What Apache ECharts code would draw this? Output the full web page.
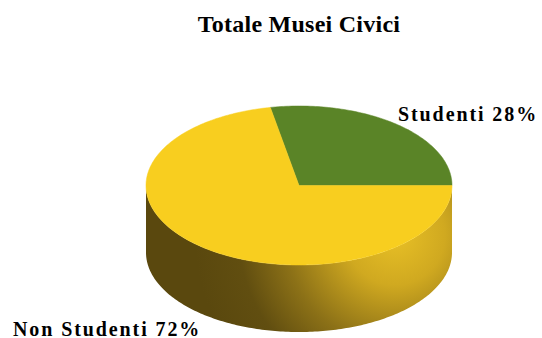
<!DOCTYPE html>
<html>
<head>
<meta charset="utf-8">
<script src="https://cdn.jsdelivr.net/npm/echarts@6/dist/echarts.min.js"></script>
<style>
  html, body { margin: 0; padding: 0; background: #ffffff; }
  #chart { width: 542px; height: 338px; }
  /* slice labels are drawn with wide tracking, the title with a little */
  #chart text[style*="20px"] { letter-spacing: 1.9px; }
  #chart text[style*="24px"] { letter-spacing: 0.25px; }
</style>
</head>
<body>
<div id="chart"></div>
<script>
// Visitor share for the civic museums
const categories = ['Studenti', 'Non Studenti'];
const values = [28, 72];
const titleText = 'Totale Musei Civici';

// Presentation
const sliceColors = ['#5a8427', '#f8ce1f'];
const pieLayout = { cx: 299, cy: 185.5, rx: 153, ry: 79.5, depth: 67 };
const labelPos = [
  { x: 398, y: 113.5 },
  { x: 13, y: 328.5 }
];

const total = values.reduce((a, b) => a + b, 0);
const starts = [];
values.reduce((acc, v, i) => { starts[i] = acc; return acc + v; }, 0);

function ellipsePoint(deg, dy) {
  const t = deg * Math.PI / 180;
  return [pieLayout.cx + pieLayout.rx * Math.cos(t),
          pieLayout.cy - pieLayout.ry * Math.sin(t) + (dy || 0)];
}

function arcPoints(a0, a1, dy) {
  const pts = [];
  const n = Math.max(2, Math.ceil(Math.abs(a1 - a0) / 1));
  for (let k = 0; k <= n; k++) pts.push(ellipsePoint(a0 + (a1 - a0) * k / n, dy));
  return pts;
}

// Shading of the cylinder wall
const wallFill = {
  type: 'radial', x: 395, y: 235, r: 200, global: true,
  colorStops: [
    { offset: 0, color: '#e8c026' },
    { offset: 0.25, color: '#d0a920' },
    { offset: 0.55, color: '#8c7117' },
    { offset: 0.78, color: '#614e10' },
    { offset: 1, color: '#5a480e' }
  ]
};

function renderSlice(params, api) {
  const i = params.dataIndex;
  const a0 = starts[i] / total * 360;
  const a1 = (starts[i] + values[i]) / total * 360;
  const children = [];

  // front wall: visible where the slice covers the lower half of the ellipse
  const w0 = Math.max(a0, 180), w1 = Math.min(a1, 360);
  if (w1 > w0) {
    const top = arcPoints(w0, w1, 0);
    const bottom = arcPoints(w1, w0, pieLayout.depth);
    children.push({
      type: 'polygon', z2: 1,
      shape: { points: top.concat(bottom) },
      style: { fill: i === 1 ? wallFill : sliceColors[i], stroke: null }
    });
  }

  // top face
  children.push({
    type: 'polygon', z2: 10,
    shape: { points: [[pieLayout.cx, pieLayout.cy]].concat(arcPoints(a0, a1, 0)) },
    style: { fill: sliceColors[i], stroke: sliceColors[i], lineWidth: 0.5 }
  });

  // label
  const pct = Math.round(values[i] / total * 100);
  children.push({
    type: 'text', z2: 20,
    x: labelPos[i].x, y: labelPos[i].y,
    style: {
      text: categories[i] + ' ' + pct + '%',
      fontFamily: '"Liberation Serif", "Times New Roman", serif',
      fontSize: 20, fontWeight: 'bold', fill: '#000000',
      align: 'left', verticalAlign: 'middle'
    }
  });

  return { type: 'group', children };
}

const chart = echarts.init(document.getElementById('chart'), null, { renderer: 'svg' });
chart.setOption({
  backgroundColor: '#ffffff',
  animation: false,
  graphic: [{
    type: 'text', x: 299, y: 23.5, z: 10,
    style: {
      text: titleText,
      fontFamily: '"Liberation Serif", "Times New Roman", serif',
      fontSize: 24, fontWeight: 'bold', fill: '#000000',
      align: 'center', verticalAlign: 'middle'
    }
  }],
  series: [{
    type: 'custom',
    coordinateSystem: 'none',
    renderItem: renderSlice,
    data: categories.map((c, i) => ({ name: c, value: values[i] }))
  }]
});
</script>
</body>
</html>
